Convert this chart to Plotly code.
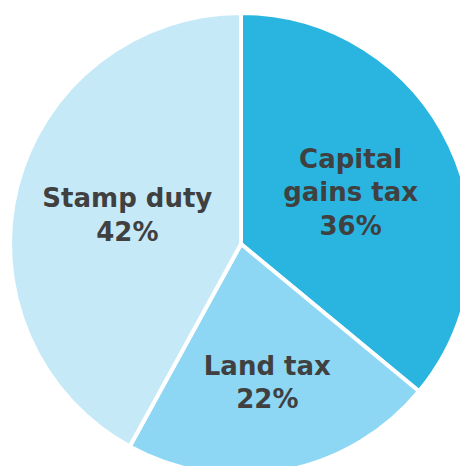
import plotly.graph_objects as go

labels = ["Capital<br>gains tax", "Land tax", "Stamp duty"]
shares = [36, 22, 42]
colors = ["#29B5E0", "#8DD7F5", "#C6E9F8"]

W, H = 480, 490

fig = go.Figure(
    go.Pie(
        labels=labels,
        values=shares,
        sort=False,
        direction="clockwise",
        rotation=0,
        marker=dict(colors=colors, line=dict(color="white", width=4)),
        texttemplate="%{label}<br>%{value}%",
        textposition="inside",
        insidetextorientation="horizontal",
        textfont=dict(family="DejaVu Sans", size=26, color="#404040", weight="bold"),
        hoverinfo="skip",
        domain=dict(x=[10 / W, 472 / W], y=[1 - 475 / H, 1 - 13 / H]),
    )
)
fig.update_layout(
    width=W,
    height=H,
    margin=dict(l=0, r=0, t=0, b=0),
    showlegend=False,
    paper_bgcolor="white",
    uniformtext=dict(minsize=26, mode="show"),
)
# pie is cropped by the window edges, as in the original
fig.write_html(
    "out.html",
    config={"displayModeBar": False},
    post_script="document.body.style.margin='0';document.body.style.overflow='hidden';",
)
